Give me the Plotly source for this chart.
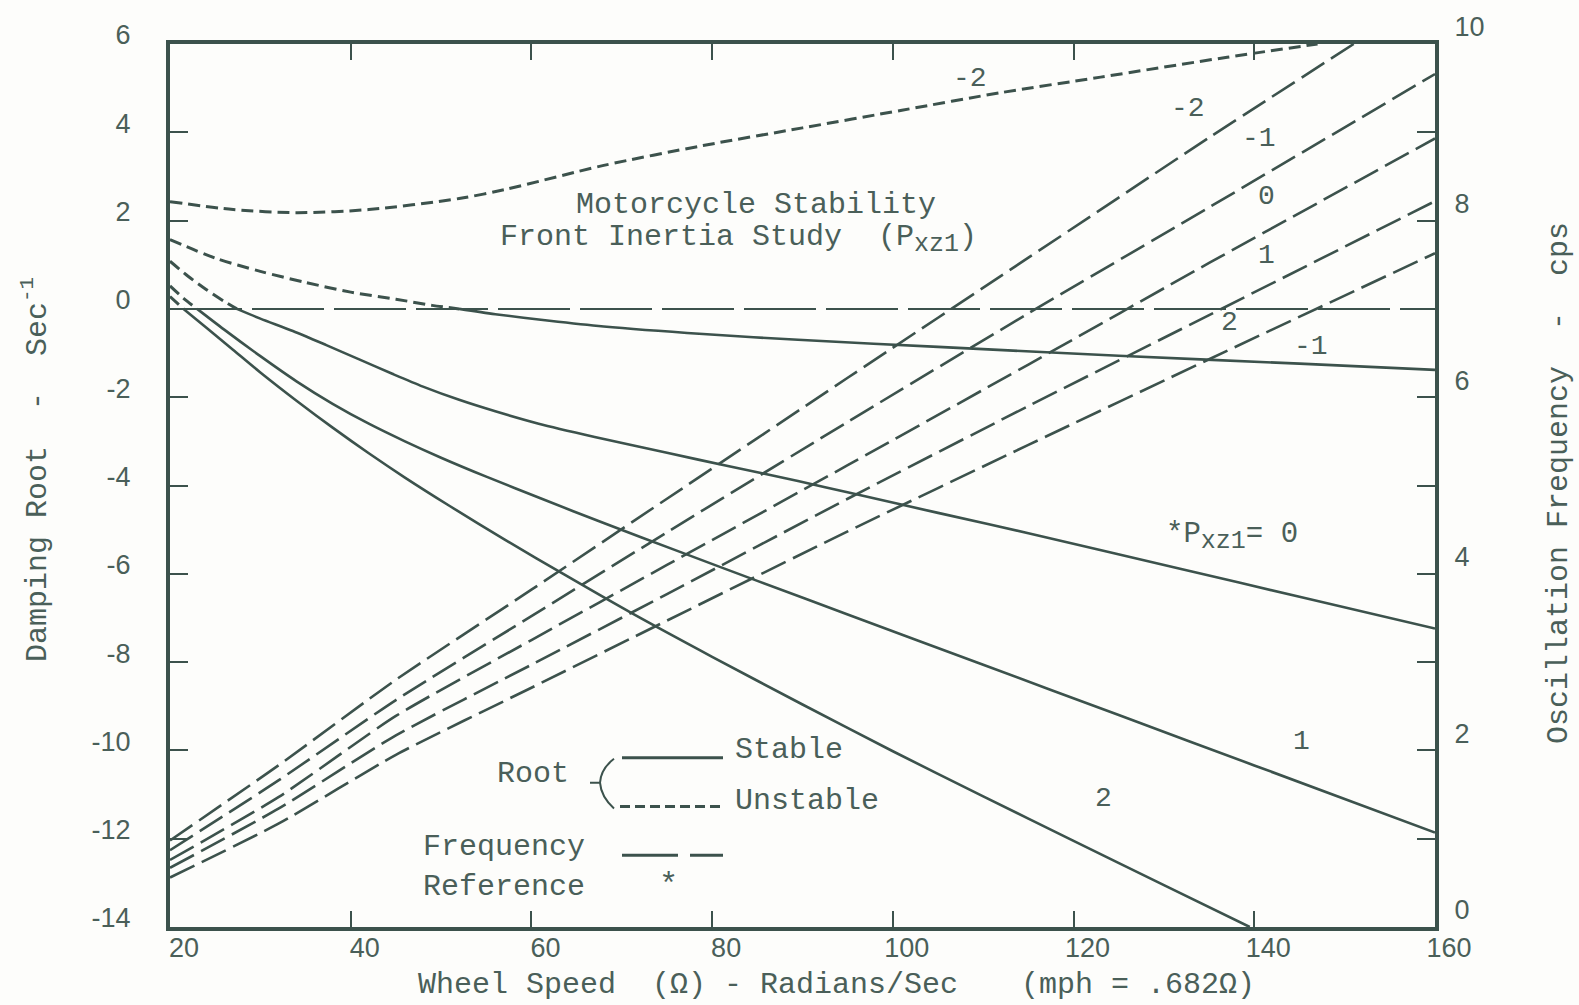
import plotly.graph_objects as go

# ---- Damping roots (left axis, 1/sec) for each front-inertia setting P_xz1 ----
speed_root_m2 = [20, 27, 34, 42, 52, 57, 68, 79, 90, 101, 112, 123, 137, 147]
root_m2 = [2.43, 2.25, 2.18, 2.25, 2.5, 2.7, 3.25, 3.7, 4.1, 4.5, 4.9, 5.25, 5.7, 6.0]

speed_root_m1 = [20, 25, 30, 35, 40, 45, 49, 52, 56, 62, 68, 79, 89.5, 105, 125, 145, 160]
root_m1 = [1.57, 1.15, 0.85, 0.6, 0.38, 0.22, 0.08, 0.0, -0.12, -0.27, -0.40, -0.57, -0.70, -0.86, -1.06, -1.24, -1.38]

speed_root_0 = [20, 22, 24, 26, 27.4, 30, 33.6, 37.3, 41, 44.6, 48, 52, 56, 60.8, 67, 75, 82, 89.5, 95.1, 105, 115, 131.9, 145, 160]
root_0 = [1.08, 0.74, 0.44, 0.17, 0.0, -0.22, -0.5, -0.82, -1.15, -1.47, -1.76, -2.06, -2.32, -2.6, -2.9, -3.26, -3.57, -3.9, -4.16, -4.62, -5.08, -5.89, -6.52, -7.24]

speed_root_1 = [20, 21.5, 23, 26, 30, 34, 38, 42, 46, 50, 55, 61, 68, 76, 85, 95, 110, 125, 140, 160]
root_1 = [0.52, 0.24, 0.0, -0.47, -1.07, -1.64, -2.15, -2.6, -3.0, -3.37, -3.8, -4.29, -4.85, -5.47, -6.16, -6.92, -8.06, -9.2, -10.34, -11.86]

speed_root_2 = [20, 21.5, 24, 27, 30, 34, 38, 42, 46, 51, 57, 64, 71, 80, 90, 100, 110, 120, 130, 139.5]
root_2 = [0.28, 0.0, -0.42, -0.93, -1.44, -2.08, -2.69, -3.27, -3.82, -4.47, -5.22, -6.06, -6.88, -7.88, -8.96, -10.02, -11.04, -12.05, -13.05, -14.0]

# ---- Oscillation frequency (right axis, cps) ----
speed_freq = [20, 32, 45, 60, 75, 95, 115, 135, 160]
speed_freq_m2 = [20, 32, 45, 60, 75, 95, 115, 135, 151]
freq_m2 = [0.98, 1.83, 2.80, 3.82, 4.85, 6.22, 7.58, 8.94, 10.0]
freq_m1 = [0.87, 1.66, 2.57, 3.52, 4.47, 5.72, 6.95, 8.15, 9.66]
freq_0 = [0.76, 1.47, 2.39, 3.25, 4.10, 5.23, 6.37, 7.52, 8.93]
freq_1 = [0.67, 1.34, 2.17, 2.97, 3.77, 4.85, 5.90, 6.93, 8.22]
freq_2 = [0.56, 1.17, 1.95, 2.71, 3.47, 4.48, 5.46, 6.43, 7.63]

# ---- Axis ticks ----
x_ticks = [20, 40, 60, 80, 100, 120, 140, 160]
top_ticks = [40, 60, 80, 100, 120, 140]
y_ticks = [-14, -12, -10, -8, -6, -4, -2, 0, 2, 4, 6]
y_labels = [str(v) for v in y_ticks]
y2_ticks = list(range(0, 11))
y2_labels = [str(v) if v % 2 == 0 else "" for v in y2_ticks]

INK = "#3c524c"
TEXT = "#4a5f59"
MONO = "Liberation Mono"
TICKFONT = dict(family="Liberation Sans", size=27, color=TEXT)
NB = "\u00a0"

# plot area in pixels
L, R, T, B = 170, 1435, 40, 927
W, H = 1579, 1005


def pxx(x):
    return (x - L) / (R - L)


def pxy(y):
    return (B - y) / (B - T)


fig = go.Figure()

ROOT_DASH = "12px,6px"
FREQ_DASH = "27px,8px"


def add_root(xs, ys):
    # unstable (positive root) part dashed, stable part solid
    un_x = [x for x, y in zip(xs, ys) if y >= 0]
    un_y = [y for y in ys if y >= 0]
    st_x = [x for x, y in zip(xs, ys) if y <= 0]
    st_y = [y for y in ys if y <= 0]
    if len(un_x) > 1:
        fig.add_trace(go.Scatter(x=un_x, y=un_y, mode="lines",
                                 line=dict(color=INK, width=3, dash=ROOT_DASH,
                                           shape="spline", smoothing=0.8),
                                 showlegend=False, hoverinfo="skip"))
    if len(st_x) > 1:
        fig.add_trace(go.Scatter(x=st_x, y=st_y, mode="lines",
                                 line=dict(color=INK, width=2.6,
                                           shape="spline", smoothing=0.8),
                                 showlegend=False, hoverinfo="skip"))


for xs, ys in [(speed_root_m2, root_m2), (speed_root_m1, root_m1),
               (speed_root_0, root_0), (speed_root_1, root_1),
               (speed_root_2, root_2)]:
    add_root(xs, ys)

for xs, ys in [(speed_freq_m2, freq_m2), (speed_freq, freq_m1),
               (speed_freq, freq_0), (speed_freq, freq_1), (speed_freq, freq_2)]:
    fig.add_trace(go.Scatter(x=xs, y=ys, yaxis="y2", mode="lines",
                             line=dict(color=INK, width=2.6, dash=FREQ_DASH,
                                       shape="spline", smoothing=0.6),
                             showlegend=False, hoverinfo="skip"))

# invisible carrier so the top tick axis is drawn
fig.add_trace(go.Scatter(x=[20, 160], y=[0, 0], xaxis="x2", mode="markers",
                         marker=dict(opacity=0, size=1),
                         showlegend=False, hoverinfo="skip"))

# zero-damping reference line
fig.add_shape(type="line", xref="x", yref="y", x0=20, x1=160, y0=0, y1=0,
              line=dict(color=INK, width=2, dash="72px,10px"))

annotations = []


def ann(text, x, y, xref="paper", yref="paper", xanchor="left", size=29, angle=0, family=MONO):
    annotations.append(dict(text=text, x=x, y=y, xref=xref, yref=yref,
                            xanchor=xanchor, yanchor="middle", showarrow=False,
                            textangle=angle, font=dict(family=family, size=size, color=TEXT)))


SUB = '<sub><span style="font-size:25px">xz1</span></sub>'

# title block
ann("Motorcycle Stability", pxx(574), pxy(202), size=30)
ann(f"Front Inertia Study{NB}{NB}(P{SUB})", pxx(498), pxy(236), size=30)

# curve labels (data coordinates, left axis)
ann("-2", 108.5, 5.21, "x", "y", "center", 28)
ann("-2", 132.7, 4.54, "x", "y", "center", 28)
ann("-1", 140.5, 3.87, "x", "y", "center", 28)
ann("0", 141.3, 2.54, "x", "y", "center", 28)
ann("1", 141.3, 1.21, "x", "y", "center", 28)
ann("2", 137.3, -0.31, "x", "y", "center", 28)
ann("-1", 146.3, -0.85, "x", "y", "center", 28)
ann("1", 145.2, -9.80, "x", "y", "center", 28)
ann("2", 123.3, -11.10, "x", "y", "center", 28)
ann(f"*P{SUB}={NB}0", 130.0, -5.17, "x", "y", "left", 29)

# key
ann("Root", pxx(495), pxy(773), size=30)
ann("Stable", pxx(733), pxy(749), size=30)
ann("Unstable", pxx(733), pxy(800), size=30)
ann("Frequency", pxx(421), pxy(847), size=30)
ann("Reference", pxx(421), pxy(887), size=30)
ann("*", pxx(668), pxy(885), xanchor="center", size=32)

# axis titles
ann(f"Wheel{NB}Speed{NB}{NB}(\u03a9){NB}-{NB}Radians/Sec", pxx(416), pxy(985), size=30)
ann(f"(mph{NB}={NB}.682\u03a9)", pxx(1019), pxy(985), size=30)
ann(f"Damping{NB}Root{NB}{NB}-{NB}{NB}Sec<sup>-1</sup>", pxx(35), pxy(468), xanchor="center", angle=-90, size=30)
ann(f"Oscillation{NB}Frequency{NB}{NB}-{NB}{NB}cps", pxx(1559), pxy(481), xanchor="center", angle=-90, size=30)

shapes = list(fig.layout.shapes)
# key line samples
shapes.append(dict(type="line", xref="paper", yref="paper", x0=pxx(622), x1=pxx(723),
                   y0=pxy(757), y1=pxy(757), line=dict(color=INK, width=3)))
shapes.append(dict(type="line", xref="paper", yref="paper", x0=pxx(620), x1=pxx(723),
                   y0=pxy(806), y1=pxy(806), line=dict(color=INK, width=3, dash="10px,5px")))
shapes.append(dict(type="line", xref="paper", yref="paper", x0=pxx(622), x1=pxx(678),
                   y0=pxy(855), y1=pxy(855), line=dict(color=INK, width=3)))
shapes.append(dict(type="line", xref="paper", yref="paper", x0=pxx(690), x1=pxx(723),
                   y0=pxy(855), y1=pxy(855), line=dict(color=INK, width=3)))
# brace next to "Root"
path = (f"M {pxx(614)},{pxy(758)} Q {pxx(601)},{pxy(768)} {pxx(600)},{pxy(782)} "
        f"Q {pxx(601)},{pxy(796)} {pxx(614)},{pxy(808)} "
        f"M {pxx(590)},{pxy(782)} L {pxx(600)},{pxy(782)}")
shapes.append(dict(type="path", xref="paper", yref="paper", path=path,
                   line=dict(color=INK, width=2)))

fig.update_layout(
    width=W, height=H,
    margin=dict(l=L, r=W - R, t=T, b=H - B),
    paper_bgcolor="#fdfdfb", plot_bgcolor="#fdfdfb",
    showlegend=False,
    annotations=annotations,
    shapes=shapes,
    xaxis=dict(range=[20, 160], tickvals=x_ticks, ticks="inside", ticklen=16,
               tickwidth=2, tickcolor=INK, showline=True, linewidth=4, linecolor=INK,
               mirror=True, showgrid=False, zeroline=False,
               tickfont=TICKFONT, ticklabelshift=14, ticklabelstandoff=-6),
    xaxis2=dict(range=[20, 160], overlaying="x", side="top", tickvals=top_ticks,
                ticks="inside", ticklen=16, tickwidth=2, tickcolor=INK,
                showticklabels=False, showline=False, showgrid=False, zeroline=False),
    yaxis=dict(range=[-14, 6], tickvals=y_ticks, ticktext=y_labels, ticks="inside", ticklen=18,
               tickwidth=2, tickcolor=INK, showline=True, linewidth=4, linecolor=INK,
               showgrid=False, zeroline=False,
               tickfont=TICKFONT, ticklabelshift=-9, ticklabelstandoff=30),
    yaxis2=dict(range=[0, 10], overlaying="y", side="right", tickvals=y2_ticks,
                ticktext=y2_labels, ticks="inside", ticklen=18, tickwidth=2,
                tickcolor=INK, showline=True, linewidth=4, linecolor=INK,
                showgrid=False, zeroline=False,
                tickfont=TICKFONT, ticklabelshift=-17, ticklabelstandoff=10),
)

fig.write_html("out.html")
